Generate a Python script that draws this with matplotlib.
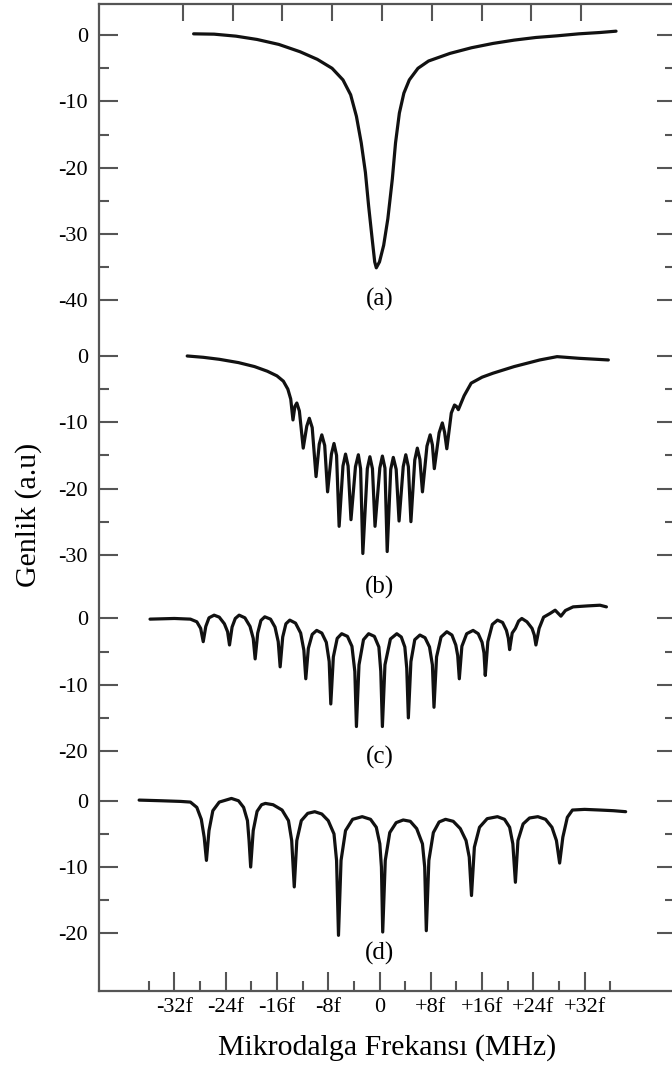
import numpy as np
import matplotlib
matplotlib.use("Agg")
import matplotlib.pyplot as plt

plt.rcParams["font.family"] = ["Liberation Serif", "DejaVu Serif"]

# ---- spectra (frequency in units of f, amplitude in a.u.) ----
freq_a = [-29.0, -25.8, -22.4, -19.1, -15.7, -12.4, -9.7, -7.4, -5.7, -4.5,
          -3.6, -2.85, -2.2, -1.7, -1.15, -0.75, -0.5, 0.0, 0.65, 1.3,
          2.0, 2.5, 3.1, 3.8, 4.65, 6.0, 7.65, 11.0, 14.35, 17.7,
          21.0, 24.4, 27.7, 31.1, 34.4, 36.9]
amp_a = [0.2, 0.15, -0.15, -0.65, -1.4, -2.5, -3.65, -5.0, -6.75, -9.0,
         -12.25, -16.25, -20.7, -25.75, -30.7, -34.2, -35.1, -34.2, -31.7, -27.7,
         -21.7, -16.25, -11.75, -8.75, -6.75, -5.0, -3.9, -2.75, -1.9, -1.25,
         -0.75, -0.35, -0.1, 0.2, 0.4, 0.6]

freq_b = [-30.0, -27.5, -25.0, -22.0, -19.5, -17.5, -16.0, -15.0, -14.3, -13.85,
          -13.5, -13.2, -12.9, -12.5,
          -11.9, -11.35, -10.95, -10.5,
          -9.9, -9.4, -9.0, -8.55,
          -8.1, -7.5, -7.1, -6.7,
          -6.3, -5.7, -5.3, -4.9,
          -4.45, -3.75, -3.3, -2.95,
          -2.6, -1.9, -1.5, -1.1,
          -0.7, 0.05, 0.45, 0.85,
          1.2, 1.75, 2.15, 2.6,
          3.05, 3.7, 4.1, 4.5,
          4.9, 5.5, 5.9, 6.3,
          6.7, 7.4, 7.9, 8.25,
          8.55, 9.3, 9.8, 10.15,
          10.5, 11.2, 11.7, 12.0,
          12.3, 13.2, 14.3, 16.0, 17.7, 21.0, 25.0, 27.7, 31.1, 35.7]
amp_b = [0.0, -0.2, -0.5, -1.0, -1.6, -2.3, -3.0, -3.8, -5.0, -6.5,
         -9.65, -7.6, -7.1, -8.3,
         -13.9, -10.6, -9.4, -10.8,
         -18.2, -13.3, -11.9, -13.5,
         -20.5, -14.8, -13.2, -15.0,
         -25.7, -16.6, -14.8, -16.6,
         -24.7, -16.7, -14.9, -17.0,
         -29.8, -17.0, -15.2, -17.0,
         -25.7, -16.9, -15.1, -16.9,
         -29.5, -17.1, -15.3, -17.1,
         -24.9, -16.7, -14.9, -16.7,
         -25.0, -15.7, -13.9, -15.6,
         -20.5, -13.6, -11.9, -13.4,
         -17.0, -11.6, -10.1, -11.5,
         -14.0, -8.6, -7.4, -7.6,
         -8.1, -6.0, -4.1, -3.2, -2.6, -1.6, -0.6, -0.1, -0.35, -0.6]

freq_c = [-35.8, -32.0, -29.5, -28.5, -27.9,
          -27.5, -27.1, -26.6, -25.8, -25.0, -24.2, -23.7,
          -23.4, -23.0, -22.5, -21.9, -21.0, -20.2, -19.7,
          -19.4, -19.0, -18.5, -17.9, -17.0, -16.3, -15.8,
          -15.5, -15.1, -14.6, -14.0, -13.1, -12.3, -11.8,
          -11.5, -11.1, -10.5, -9.8, -9.0, -8.3, -7.85,
          -7.6, -7.2, -6.6, -5.9, -5.0, -4.3, -3.85,
          -3.6, -3.2, -2.5, -1.7, -0.8, -0.1, 0.2,
          0.45, 0.85, 1.7, 2.7, 3.4, 3.95, 4.25,
          4.5, 4.9, 5.5, 6.3, 7.1, 7.8, 8.25,
          8.5, 8.9, 9.6, 10.5, 11.3, 11.9, 12.2,
          12.45, 12.85, 13.6, 14.6, 15.4, 16.0, 16.3,
          16.5, 16.9, 17.6, 18.4, 19.2, 19.8, 20.1,
          20.3, 20.7, 21.2, 21.7, 22.2, 23.0, 23.8, 24.15,
          24.4, 24.9, 25.6, 26.6, 27.4, 28.3, 29.0, 30.2, 32.5, 34.4, 35.4]
amp_c = [-0.1, 0.0, -0.1, -0.5, -1.5,
         -3.5, -1.2, 0.1, 0.5, 0.2, -0.8, -2.0,
         -4.0, -1.3, 0.0, 0.5, 0.1, -1.2, -3.0,
         -6.1, -2.2, -0.3, 0.25, -0.1, -1.3, -3.5,
         -7.3, -2.8, -0.8, -0.25, -0.7, -2.2, -4.8,
         -9.1, -4.5, -2.4, -1.8, -2.2, -3.6, -6.5,
         -12.9, -5.8, -3.0, -2.3, -2.7, -4.2, -8.0,
         -16.3, -7.0, -3.2, -2.3, -2.7, -4.3, -8.0,
         -16.3, -7.0, -3.1, -2.3, -2.8, -4.3, -7.5,
         -15.0, -6.5, -3.2, -2.5, -2.9, -4.3, -7.0,
         -13.4, -5.8, -2.8, -2.0, -2.5, -4.0, -5.6,
         -9.1, -4.2, -2.3, -1.8, -2.3, -3.6, -5.2,
         -8.6, -3.5, -0.9, -0.25, -0.6, -1.8, -3.0,
         -4.7, -2.2, -1.5, -0.4, 0.0, -0.5, -1.5, -2.5,
         -4.0, -1.5, 0.2, 0.75, 1.25, 0.35, 1.2, 1.75, 1.9, 2.0, 1.75]

freq_d = [-37.5, -34.0, -31.0, -29.5, -28.5, -27.8, -27.35,
          -27.0, -26.6, -26.0, -25.0, -23.1, -22.0, -21.2, -20.6, -20.35,
          -20.1, -19.7, -19.1, -18.4, -17.8, -16.6, -15.2, -14.2, -13.7,
          -13.3, -12.9, -12.2, -11.2, -10.1, -9.0, -8.0, -7.1, -6.7,
          -6.4, -6.0, -5.3, -4.2, -2.7, -1.4, -0.5, 0.05, 0.3,
          0.5, 0.9, 1.6, 2.6, 3.7, 4.8, 5.8, 6.7, 7.05,
          7.3, 7.7, 8.4, 9.3, 10.3, 11.5, 12.6, 13.5, 14.0,
          14.35, 14.8, 15.6, 16.8, 18.4, 19.5, 20.3, 20.8,
          21.2, 21.6, 22.4, 23.4, 24.7, 25.9, 26.9, 27.6,
          28.1, 28.6, 29.3, 30.1, 32.0, 34.4, 36.5, 38.4]
amp_d = [0.1, 0.0, -0.1, -0.2, -1.0, -2.8, -5.5,
         -9.0, -4.5, -1.5, -0.2, 0.35, 0.0, -1.0, -3.0, -6.0,
         -10.0, -4.5, -1.6, -0.6, -0.4, -0.6, -1.4, -3.0, -6.0,
         -13.0, -6.0, -3.0, -1.9, -1.65, -2.0, -3.0, -5.0, -9.0,
         -20.3, -9.0, -4.5, -2.8, -2.4, -2.8, -4.0, -6.5, -10.0,
         -19.8, -9.0, -4.8, -3.3, -2.9, -3.1, -4.2, -6.5, -10.0,
         -19.6, -9.0, -4.8, -3.2, -2.8, -3.1, -4.2, -6.0, -8.5,
         -14.3, -7.0, -4.0, -2.7, -2.4, -2.8, -4.0, -6.5,
         -12.3, -6.0, -3.5, -2.6, -2.4, -2.8, -4.0, -6.0,
         -9.4, -5.5, -2.5, -1.4, -1.3, -1.4, -1.5, -1.65]

panel_names = ["(a)", "(b)", "(c)", "(d)"]
panel_offsets = [0.0, -48.4, -88.0, -115.5]
panel_label_y = [-39.8, -34.9, -21.0, -23.0]
ytick_major = [[0, -10, -20, -30, -40], [0, -10, -20, -30], [0, -10, -20], [0, -10, -20]]
ytick_minor = [[-5, -15, -25, -35], [-5, -15, -25], [-5, -15], [-5, -15]]

xtick_major = [-32, -24, -16, -8, 0, 8, 16, 24, 32]
xtick_labels = ["-32f", "-24f", "-16f", "-8f", "0", "+8f", "+16f", "+24f", "+32f"]
xtick_minor = [-36, -28, -20, -12, -4, 4, 12, 20, 28, 36]
xtick_top = [-30.66, -22.85, -15.21, -7.41, 0.39, 8.19, 15.99, 23.63, 31.43]

traces = [(freq_a, amp_a), (freq_b, amp_b), (freq_c, amp_c), (freq_d, amp_d)]

# ---- figure ----
W, H = 672, 1068
fig = plt.figure(figsize=(W / 100, H / 100), dpi=100)
ax = fig.add_axes([99 / W, 77 / H, 573 / W, 987 / H])
ax.set_xlim(-43.76, 45.63)
ax.set_ylim(-144.2, 4.7)

spine_col = "#555555"
for (fx, ay), off in zip(traces, panel_offsets):
    ax.plot(fx, off + np.asarray(ay), color="#111111", lw=2.3,
            solid_joinstyle="round", solid_capstyle="round")

for name, off, ly in zip(panel_names, panel_offsets, panel_label_y):
    ax.text(0.0, off + ly, name, ha="center", va="center", fontsize=18)

# left y ticks: each trace carries its own amplitude scale
maj_pos, maj_lab, min_pos = [], [], []
for off, majors, minors in zip(panel_offsets, ytick_major, ytick_minor):
    for v in majors:
        maj_pos.append(off + v)
        maj_lab.append(str(v))
    for v in minors:
        min_pos.append(off + v)
ax.set_yticks(maj_pos)
ax.set_yticklabels(maj_lab)
ax.set_yticks(min_pos, minor=True)

ax.set_xticks(xtick_major)
ax.set_xticklabels(xtick_labels)
ax.set_xticks(xtick_minor, minor=True)

ax.tick_params(which="both", direction="in", color=spine_col, width=1.5,
               left=True, bottom=True, top=False, right=False, labelsize=16)
ax.tick_params(which="major", length=13.5)
ax.tick_params(which="minor", length=7.5)
ax.tick_params(axis="y", which="major", pad=8)
ax.tick_params(axis="x", which="major", pad=5)

for side in ("left", "bottom", "top"):
    ax.spines[side].set_color(spine_col)
    ax.spines[side].set_linewidth(1.6)
ax.spines["right"].set_visible(False)

# top ticks
sec_top = ax.secondary_xaxis("top")
sec_top.set_xticks(xtick_top)
sec_top.tick_params(direction="in", length=12, width=1.5, color=spine_col,
                    labeltop=False)
sec_top.spines["top"].set_visible(False)

# right ticks
sec_right = ax.secondary_yaxis("right")
sec_right.set_yticks(maj_pos)
sec_right.set_yticks(min_pos, minor=True)
sec_right.tick_params(which="both", direction="in", width=1.5, color=spine_col,
                      labelright=False)
sec_right.tick_params(which="major", length=11)
sec_right.tick_params(which="minor", length=5)
sec_right.spines["right"].set_visible(False)

fig.text(387 / W, 13 / H, "Mikrodalga Frekansı (MHz)", ha="center",
         va="baseline", fontsize=21.5)
fig.text(29 / W, 1 - 515 / H, "Genlik (a.u)", ha="center", va="center",
         rotation=90, fontsize=21.5)

fig.savefig("out.png", dpi=100)
